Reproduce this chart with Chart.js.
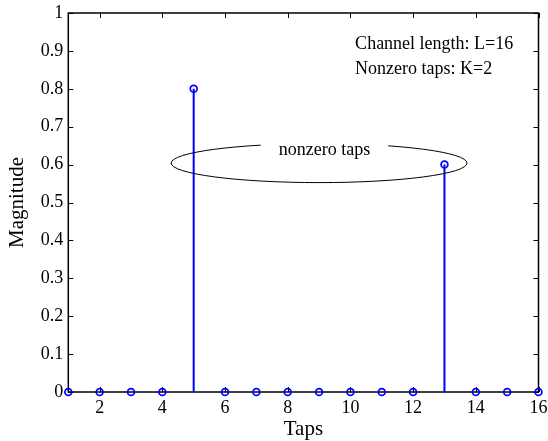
<!DOCTYPE html>
<html>
<head>
<meta charset="utf-8">
<script src="https://cdn.jsdelivr.net/npm/chart.js@4.4.1/dist/chart.umd.min.js"></script>
<style>
  html, body { margin: 0; padding: 0; background: #fff; }
  #wrap { width: 548px; height: 441px; }
</style>
</head>
<body>
<div id="wrap"><canvas id="c" width="548" height="441"></canvas></div>
<script>
// ---- data ----
const taps = [1, 2, 3, 4, 5, 6, 7, 8, 9, 10, 11, 12, 13, 14, 15, 16];
const magnitudes = [0, 0, 0, 0, 0.8, 0, 0, 0, 0, 0, 0, 0, 0.6, 0, 0, 0];
const xTicks = [2, 4, 6, 8, 10, 12, 14, 16];
const yTicks = [0, 0.1, 0.2, 0.3, 0.4, 0.5, 0.6, 0.7, 0.8, 0.9, 1];
const yTickLabels = ['0', '0.1', '0.2', '0.3', '0.4', '0.5', '0.6', '0.7', '0.8', '0.9', '1'];
const xTitle = 'Taps';
const yTitle = 'Magnitude';
const infoLines = ['Channel length: L=16', 'Nonzero taps: K=2'];
const ellipseLabel = 'nonzero taps';

const FONT = "'Liberation Serif', 'Times New Roman', serif";
const BLUE = '#0000ff';

// stem segments built from the data arrays
const stemData = [];
taps.forEach((t, i) => {
  stemData.push({ x: t, y: 0 });
  stemData.push({ x: t, y: magnitudes[i] });
  stemData.push({ x: t, y: null });
});
const markerData = taps.map((t, i) => ({ x: t, y: magnitudes[i] }));

// frame + inward ticks on all four sides
const framePlugin = {
  id: 'frame',
  beforeDatasetsDraw(chart) {
    const { ctx, chartArea: a, scales } = chart;
    ctx.save();
    ctx.strokeStyle = '#000';
    ctx.lineWidth = 1.5;
    ctx.strokeRect(a.left, a.top, a.right - a.left, a.bottom - a.top);
    ctx.lineWidth = 1;
    const tl = 5;
    ctx.beginPath();
    xTicks.forEach(v => {
      const px = Math.round(scales.x.getPixelForValue(v)) + 0.5;
      ctx.moveTo(px, a.bottom); ctx.lineTo(px, a.bottom - tl);
      ctx.moveTo(px, a.top); ctx.lineTo(px, a.top + tl);
    });
    yTicks.forEach(v => {
      const py = Math.round(scales.y.getPixelForValue(v)) + 0.5;
      ctx.moveTo(a.left, py); ctx.lineTo(a.left + tl, py);
      ctx.moveTo(a.right, py); ctx.lineTo(a.right - tl, py);
    });
    ctx.stroke();
    ctx.restore();
  }
};

// annotations: info text, ellipse with label
const annotPlugin = {
  id: 'annot',
  afterDatasetsDraw(chart) {
    const { ctx, scales } = chart;
    const sx = scales.x, sy = scales.y;
    ctx.save();
    // ellipse
    const cx = sx.getPixelForValue(9.0);
    const cy = sy.getPixelForValue(0.604);
    const rx = sx.getPixelForValue(9.0 + 4.72) - cx;
    const ry = cy - sy.getPixelForValue(0.604 + 0.0515);
    ctx.strokeStyle = '#000';
    ctx.lineWidth = 1;
    ctx.beginPath();
    ctx.ellipse(cx, cy, rx, ry, 0, 0, Math.PI * 2);
    ctx.stroke();
    // label with white background
    ctx.font = '18px ' + FONT;
    ctx.textAlign = 'center';
    ctx.textBaseline = 'alphabetic';
    const lx = sx.getPixelForValue(9.17);
    const ly = sy.getPixelForValue(0.625);
    const w = ctx.measureText(ellipseLabel).width;
    ctx.fillStyle = '#fff';
    ctx.fillRect(lx - w / 2 - 18, ly - 14, w + 36, 18);
    ctx.fillStyle = '#000';
    ctx.fillText(ellipseLabel, lx, ly);
    // info text
    ctx.textAlign = 'left';
    const ix = sx.getPixelForValue(10.15);
    const iy = sy.getPixelForValue(0.905);
    ctx.fillText(infoLines[0], ix, iy);
    ctx.fillText(infoLines[1], ix, iy + 25);
    ctx.restore();
  }
};

new Chart(document.getElementById('c'), {
  type: 'scatter',
  data: {
    datasets: [
      {
        label: 'markers',
        data: markerData,
        showLine: false,
        pointStyle: 'circle',
        pointRadius: 3.4,
        pointBorderWidth: 1.7,
        pointBorderColor: BLUE,
        pointBackgroundColor: 'rgba(0,0,0,0)',
        order: 0,
        clip: false
      },
      {
        label: 'stems',
        data: stemData,
        showLine: true,
        spanGaps: false,
        borderColor: BLUE,
        borderWidth: 2,
        pointRadius: 0,
        order: 1,
        clip: false
      }
    ]
  },
  options: {
    responsive: false,
    animation: false,
    events: [],
    layout: { padding: { top: 13, right: 9.5, bottom: 0, left: 0 } },
    plugins: { legend: { display: false }, tooltip: { enabled: false } },
    scales: {
      x: {
        type: 'linear',
        min: 1, max: 16,
        afterBuildTicks: s => { s.ticks = xTicks.map(v => ({ value: v })); },
        afterFit: s => { s.height = 49; s.paddingLeft = 0; s.paddingRight = 0; },
        grid: { display: false, drawTicks: false },
        border: { display: false },
        ticks: { color: '#000', font: { family: FONT, size: 18 }, padding: 5, maxRotation: 0, autoSkip: false,
                 callback: v => String(v) },
        title: { display: true, text: xTitle, color: '#000', font: { family: FONT, size: 21 }, padding: { top: 0, bottom: -1 } }
      },
      y: {
        type: 'linear',
        min: 0, max: 1,
        afterBuildTicks: s => { s.ticks = yTicks.map(v => ({ value: v })); },
        afterFit: s => { s.width = 68.3; s.paddingTop = 0; s.paddingBottom = 0; },
        grid: { display: false, drawTicks: false },
        border: { display: false },
        ticks: { color: '#000', font: { family: FONT, size: 18 }, padding: 5, autoSkip: false,
                 callback: (v) => { const i = yTicks.findIndex(t => Math.abs(t - v) < 1e-9); return i >= 0 ? yTickLabels[i] : ''; } },
        title: { display: true, text: yTitle, color: '#000', font: { family: FONT, size: 21 }, padding: { top: 5, bottom: 0 } }
      }
    }
  },
  plugins: [framePlugin, annotPlugin]
});
</script>
</body>
</html>
